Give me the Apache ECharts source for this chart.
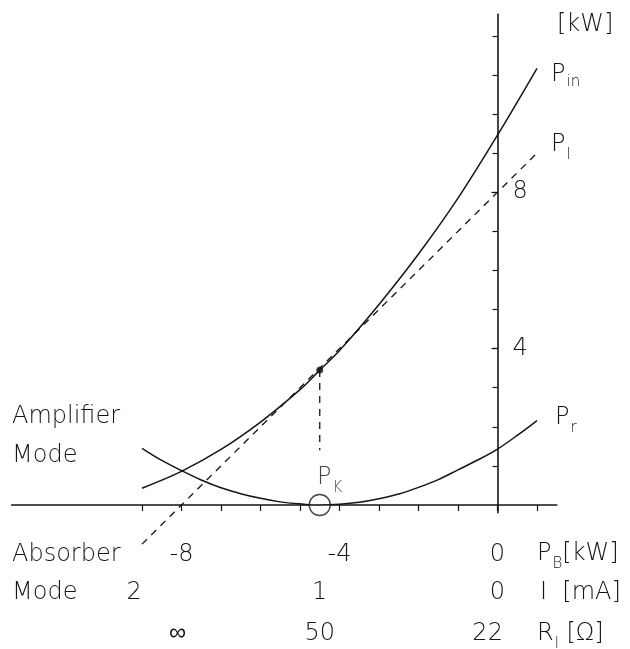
<!DOCTYPE html>
<html>
<head>
<meta charset="utf-8">
<script src="https://cdn.jsdelivr.net/npm/echarts@6/dist/echarts.min.js"></script>
<style>
  html, body { margin: 0; padding: 0; background: #fff; }
  #chart { width: 630px; height: 649px; }
</style>
</head>
<body>
<div id="chart"></div>
<script>
// Input power P_in versus beam power P_B
const pinX = [-9, -8, -7, -6, -5, -4.5, -4, -3, -2, -1, 0, 1];
const pinY = [0.43, 0.86, 1.42, 2.12, 2.95, 3.45, 3.95, 5.13, 6.42, 7.85, 9.46, 11.17];

// Tangent line P_l
const plX = [-9, 1];
const plY = [-1.0, 9.0];

// Reflected power P_r
const prX = [-9, -8.5, -8, -7.5, -7, -6.5, -6, -5.5, -5, -4.5, -4, -3.5, -3, -2.5, -2, -1.5, -1, -0.5, 0, 0.5, 1];
const prY = [1.45, 1.14, 0.88, 0.64, 0.44, 0.29, 0.17, 0.08, 0.03, 0, 0.02, 0.07, 0.16, 0.28, 0.45, 0.65, 0.90, 1.15, 1.43, 1.78, 2.16];

// Operating point P_K
const pkX = -4.5;
const pkY = 3.45;
const pkDropEnd = 1.4;

// Scales below the axis
const pbTickPos = [-8, -4, 0];
const pbTickLabels = ['-8', '-4', '0'];
const iTickPos = [-9.2, -4.5, 0];
const iTickLabels = ['2', '1', '0'];
const rTickPos = [-8.1, -4.5, -0.25];
const rTickLabels = ['\u221e', '50', '22'];

const xMinorTicks = [-9, -8, -7, -6, -5, -4, -3, -2, -1, 0, 1];
const yMinorTicks = [1, 2, 3, 4, 5, 6, 7, 8, 9, 10, 11, 12];
const yLabelTicks = [4, 8];

const FONT = '"DejaVu Sans", sans-serif';
const INK = '#151515';
const X_MIN = -12.3, X_MAX = 1.5, Y_MIN = -0.2, Y_MAX = 12.55;

// P with a lowered subscript
const rich = {
  p: { fontFamily: FONT, fontWeight: 200, fontSize: 24, verticalAlign: 'top', color: INK },
  s: { fontFamily: FONT, fontWeight: 200, fontSize: 15, verticalAlign: 'top', padding: [15, 0, 0, 1], color: INK },
  si: { fontFamily: FONT, fontWeight: 200, fontSize: 15, verticalAlign: 'top', padding: [11, 0, 0, 1], color: INK },
  u: { fontFamily: FONT, fontWeight: 200, fontSize: 24, verticalAlign: 'top', color: INK }
};

const pair = (xs, ys) => xs.map((x, i) => [x, ys[i]]);
const lookup = (pos, labels) => (v) => {
  const i = pos.indexOf(v);
  return i < 0 ? '' : labels[i];
};

const textStyle = { fontFamily: FONT, fontWeight: 200, fontSize: 24, color: INK };

function labelAxis(pos, labels, margin) {
  return {
    type: 'value', min: X_MIN, max: X_MAX, position: 'bottom', gridIndex: 0,
    axisLine: { show: false, onZero: false },
    axisTick: { show: false },
    splitLine: { show: false },
    axisLabel: Object.assign({
      customValues: pos, margin: margin, verticalAlign: 'middle',
      formatter: lookup(pos, labels)
    }, textStyle)
  };
}

const chart = echarts.init(document.getElementById('chart'), null, { renderer: 'canvas' });

const gridLeft = 497.5 + X_MIN * 39.5;
const gridTop = 505 - Y_MAX * 39.1;

chart.setOption({
  backgroundColor: '#fff',
  animation: false,
  grid: {
    left: gridLeft, top: gridTop,
    width: (X_MAX - X_MIN) * 39.5, height: (Y_MAX - Y_MIN) * 39.1,
    containLabel: false, outerBoundsMode: 'none'
  },
  xAxis: [
    {
      type: 'value', min: X_MIN, max: X_MAX,
      axisLine: { onZero: true, onZeroAxisIndex: 0, lineStyle: { color: INK, width: 1.6 } },
      axisTick: { customValues: xMinorTicks, inside: false, length: 6, lineStyle: { color: INK, width: 1.2 } },
      axisLabel: { show: false },
      splitLine: { show: false }
    },
    labelAxis(pbTickPos, pbTickLabels, 42),
    labelAxis(iTickPos, iTickLabels, 80),
    labelAxis(rTickPos, rTickLabels, 121)
  ],
  yAxis: [
    {
      type: 'value', min: Y_MIN, max: Y_MAX,
      axisLine: { onZero: true, onZeroAxisIndex: 0, lineStyle: { color: INK, width: 1.6 } },
      axisTick: { customValues: yMinorTicks, inside: false, length: 5, lineStyle: { color: INK, width: 1.2 } },
      axisLabel: { show: false },
      splitLine: { show: false }
    },
    {
      // short ticks on the right of the axis at the labelled values
      type: 'value', min: Y_MIN, max: Y_MAX,
      axisLine: { show: false, onZero: true, onZeroAxisIndex: 0 },
      axisTick: { customValues: yLabelTicks, inside: true, length: 6, lineStyle: { color: INK, width: 1.2 } },
      axisLabel: { show: false },
      splitLine: { show: false }
    },
    {
      // labels 4 and 8 beside the vertical axis
      type: 'value', min: Y_MIN, max: Y_MAX, position: 'right',
      axisLine: { show: false, onZero: false },
      axisTick: { show: false },
      axisLabel: Object.assign({ customValues: yLabelTicks, inside: true, margin: 29, formatter: (v) => String(v) }, textStyle),
      splitLine: { show: false }
    }
  ],
  series: [
    {
      name: 'P_in', type: 'line', data: pair(pinX, pinY), smooth: 0.35,
      symbol: 'none', clip: false,
      lineStyle: { color: INK, width: 1.5 },
      endLabel: { show: true, formatter: '{p|P}{si|in}', rich: rich, distance: 14, verticalAlign: 'top', offset: [0, -5] }
    },
    {
      name: 'P_l', type: 'line', data: pair(plX, plY),
      symbol: 'none', clip: false,
      lineStyle: { color: INK, width: 1.3, type: [7, 6] },
      endLabel: { show: true, formatter: '{p|P}{s|l}', rich: rich, distance: 14, verticalAlign: 'top', offset: [0, -20] }
    },
    {
      name: 'P_r', type: 'line', data: pair(prX, prY), smooth: 0.35,
      symbol: 'none', clip: false,
      lineStyle: { color: INK, width: 1.5 },
      endLabel: { show: true, formatter: '{p|P}{s|r}', rich: rich, distance: 18, verticalAlign: 'top', offset: [0, -15] }
    },
    {
      name: 'drop', type: 'line', data: [[pkX, pkY], [pkX, pkDropEnd]],
      symbol: 'none', clip: false,
      lineStyle: { color: INK, width: 1.3, type: [7, 6] }
    },
    {
      name: 'point', type: 'scatter', data: [[pkX, pkY]],
      symbol: 'circle', symbolSize: 7, itemStyle: { color: INK }
    },
    {
      name: 'P_K', type: 'scatter', data: [[pkX, 0]],
      symbol: 'circle', symbolSize: 21,
      itemStyle: { color: '#fff', borderColor: INK, borderWidth: 1.4 },
      label: { show: true, position: 'top', distance: 0, formatter: '{p|P}{s|K}', rich: rich, offset: [10, 2] }
    }
  ],
  graphic: [
    { type: 'text', style: { text: '[kW]', x: 557, y: 25, font: '200 24px ' + FONT, fill: INK, textVerticalAlign: 'middle' } },
    { type: 'text', style: { text: 'Amplifier', x: 12, y: 417, font: '200 24px ' + FONT, fill: INK, textVerticalAlign: 'middle' } },
    { type: 'text', style: { text: 'Mode', x: 12, y: 456, font: '200 24px ' + FONT, fill: INK, textVerticalAlign: 'middle' } },
    { type: 'text', style: { text: 'Absorber', x: 12, y: 555, font: '200 24px ' + FONT, fill: INK, textVerticalAlign: 'middle' } },
    { type: 'text', style: { text: 'Mode', x: 12, y: 593, font: '200 24px ' + FONT, fill: INK, textVerticalAlign: 'middle' } },
    { type: 'text', style: { text: '{p|P}{s|B}{u|[kW]}', rich: rich, x: 537, y: 542, fill: INK } },
    { type: 'text', style: { text: 'I  [mA]', x: 540, y: 593, font: '200 24px ' + FONT, fill: INK, textVerticalAlign: 'middle' } },
    { type: 'text', style: { text: '{p|R}{s|l}{u| [\u03a9]}', rich: rich, x: 537, y: 622, fill: INK } }
  ]
});
</script>
</body>
</html>
